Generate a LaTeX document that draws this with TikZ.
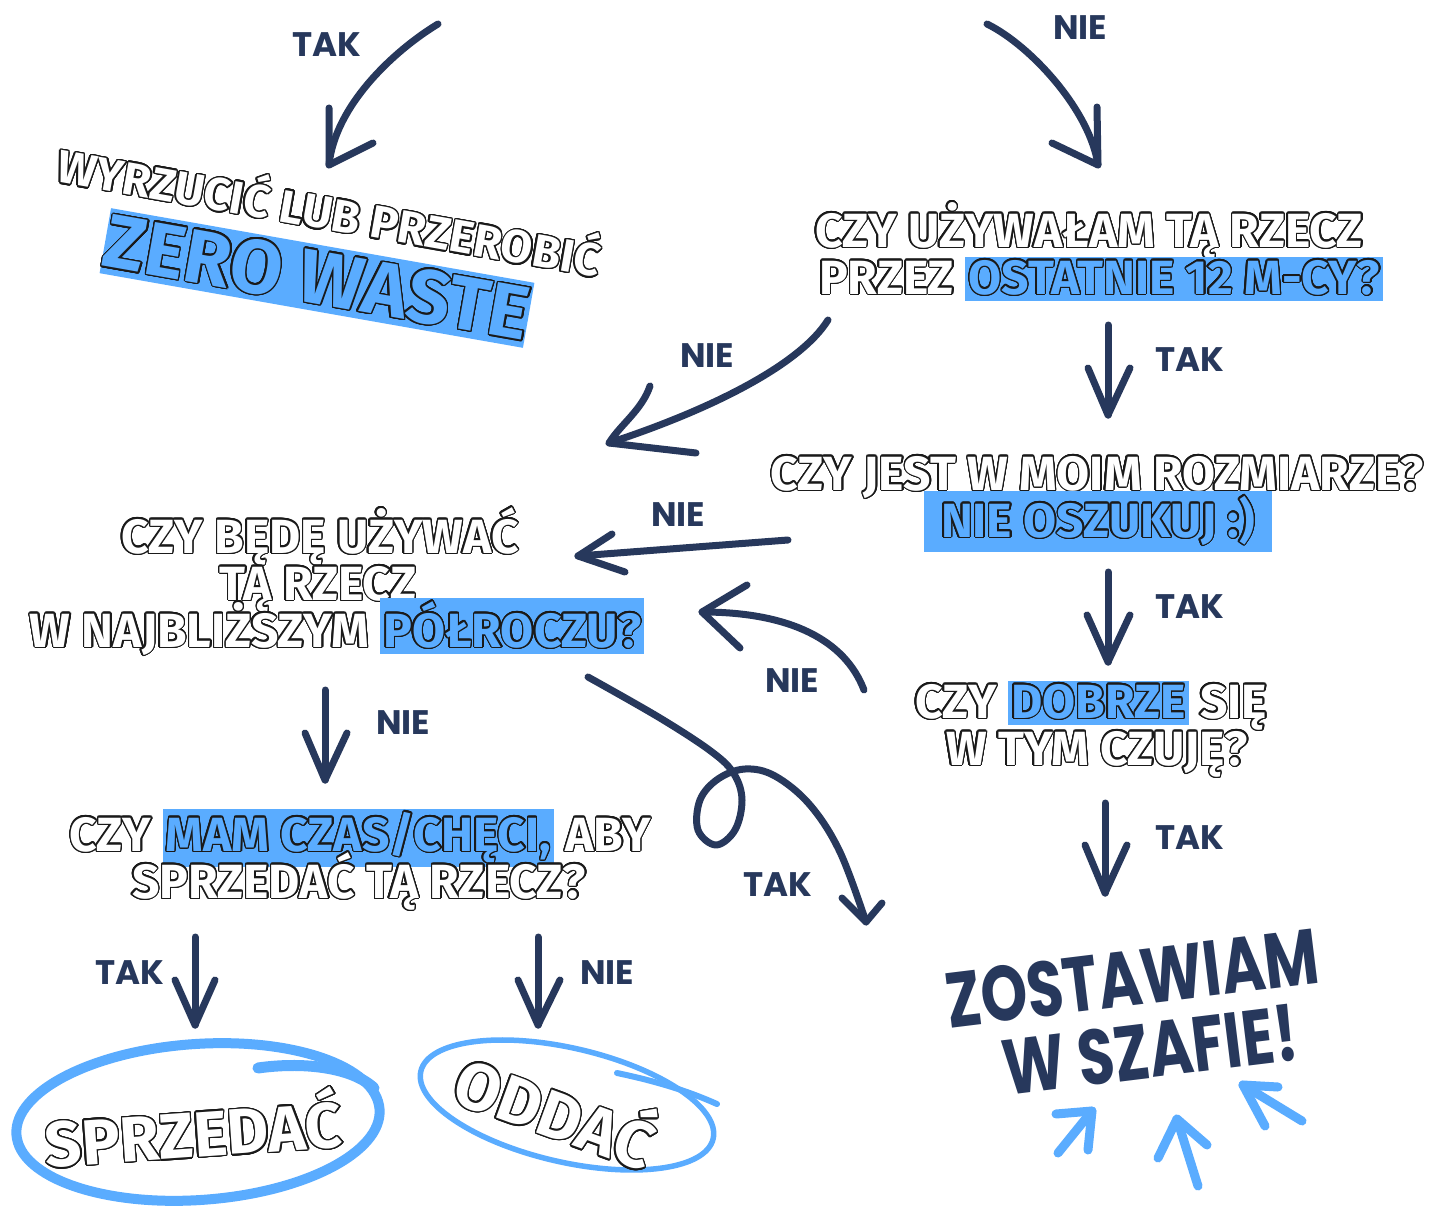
\documentclass[tikz,border=0pt]{standalone}
\usepackage{fontspec}
\usepackage{contour}
\contourlength{1.4pt}
\contournumber{24}
\setmainfont{Fira Sans}
\newfontfamily\labfont{Poppins}
\newfontfamily\bigfont{Poppins}[FakeStretch=0.76]
\definecolor{navy}{HTML}{27385C}
\definecolor{hlblue}{HTML}{5AACFF}
\definecolor{outl}{HTML}{1A1A1A}
\newcommand\wt[1]{{\color{white}\contour{outl}{#1}}}
\newcommand\bt[1]{{\color{hlblue}\contour{outl}{#1}}}
\newcommand\hl[1]{{\setlength\fboxsep{3pt}\colorbox{hlblue}{\rule[-0.09em]{0pt}{0.71em}\bt{#1}}}}
\tikzset{
  q/.style={font=\bfseries\fontsize{48}{52}\selectfont, inner sep=0pt, anchor=base},
  lab/.style={font=\labfont\bfseries\fontsize{34}{36}\selectfont, text=navy, inner sep=0pt},
  big/.style={font=\bigfont\bfseries\fontsize{78}{82}\selectfont, text=navy, inner sep=0pt, rotate=7},
  arr/.style={draw=navy, line width=7pt, line cap=round, line join=round},
  barr/.style={draw=hlblue, line width=9pt, line cap=round, line join=round},
  ring/.style={draw=hlblue, line cap=round, line join=round},
}
\begin{document}
\begin{tikzpicture}[x=1pt,y=-1pt]
\useasboundingbox[fill=white] (0,0) rectangle (1444,1207);

% ---------- labels ----------
\node[lab] (l1) at (327,45) {TAK};
\node[lab] (l2) at (1080,28) {NIE};
\node[lab] (l3) at (707,356) {NIE};
\node[lab] (l4) at (1190,360) {TAK};
\node[lab] (l5) at (678,515) {NIE};
\node[lab] (l6) at (1190,607) {TAK};
\node[lab] (l7) at (792,681) {NIE};
\node[lab] (l8) at (1190,838) {TAK};
\node[lab] (l9) at (403,723) {NIE};
\node[lab] (l10) at (778,885) {TAK};
\node[lab] (l11) at (130,973) {TAK};
\node[lab] (l12) at (607,973) {NIE};

% ---------- zero waste ----------
\node[font=\bfseries\fontsize{46}{48}\selectfont, inner sep=0pt, rotate=-10] (wyrz) at (330,209) {\wt{WYRZUCIĆ LUB PRZEROBIĆ}};
\node[fill=hlblue, minimum width=415pt, minimum height=66pt, inner sep=0pt, rotate=-10,
      font=\bfseries\fontsize{76}{80}\selectfont] (zw) at (317,278) {\bt{ZERO WASTE}};

% ---------- question 1 ----------
\node[q] (q1a) at (1089,247) {\wt{CZY UŻYWAŁAM TĄ RZECZ}};
\node[q] (q1b) at (1101,294) {\wt{PRZEZ} \hl{OSTATNIE 12 M-CY?}};

% ---------- question 2 ----------
\node[q] (q2a) at (1097,490) {\wt{CZY JEST W MOIM ROZMIARZE?}};
\node[q] (q2b) at (1098,537) {\setlength\fboxsep{5pt}\colorbox{hlblue}{\hspace{12pt}\rule[-0.09em]{0pt}{0.71em}\bt{NIE OSZUKUJ :)}\hspace{12pt}}};

% ---------- question 3 ----------
\node[q] (q3a) at (1091,718) {\wt{CZY} \hl{DOBRZE} \wt{SIĘ}};
\node[q] (q3b) at (1097,765) {\wt{W TYM CZUJĘ?}};

% ---------- left question ----------
\node[q] (qla) at (320,553) {\wt{CZY BĘDĘ UŻYWAĆ}};
\node[q] (qlb) at (318,600) {\wt{TĄ RZECZ}};
\node[q] (qlc) at (337,647) {\wt{W NAJBLIŻSZYM} \hl{PÓŁROCZU?}};

% ---------- question 4 ----------
\node[q] (q4a) at (360,851) {\wt{CZY} \hl{MAM CZAS/CHĘCI,} \wt{ABY}};
\node[q] (q4b) at (359,898) {\wt{SPRZEDAĆ TĄ RZECZ?}};

% ---------- final ----------
\node[big] (zo1) at (1132,978) {ZOSTAWIAM};
\node[big] (zo2) at (1150,1050) {W SZAFIE!};

% ---------- sell / give ----------
\coordinate (e1) at (198,1122);
\draw[ring, line width=10pt, rotate around={4:(e1)}] (e1) ellipse [x radius=182, y radius=78];
\coordinate (t1a) at (258,1068);
\coordinate (t1b) at (374,1088);
\draw[ring, line width=11pt] (t1a) .. controls (300,1062) and (350,1066) .. (t1b);
\node[font=\bfseries\fontsize{64}{68}\selectfont, inner sep=0pt, rotate=4] (sprz) at (193,1128) {\wt{SPRZEDAĆ}};

\coordinate (e2) at (567,1105);
\draw[ring, line width=5.5pt, rotate around={-13:(e2)}] (e2) ellipse [x radius=150, y radius=57];
\coordinate (t2a) at (617,1073);
\coordinate (t2b) at (717,1104);
\draw[ring, line width=6pt] (t2a) .. controls (660,1082) and (690,1092) .. (t2b);
\node[font=\bfseries\fontsize{66}{70}\selectfont, inner sep=0pt, rotate=-20] (odd) at (557,1108) {\wt{ODDAĆ}};

% ---------- navy arrows ----------
% A1 TAK top-left
\coordinate (a1s) at (438,24); \coordinate (a1t) at (329,165);
\coordinate (a1b) at (329,108); \coordinate (a1c) at (373,143);
\draw[arr] (a1s) .. controls (395,50) and (335,105) .. (a1t);
\draw[arr] (a1b) -- (a1t) -- (a1c);
% A2 NIE top-right
\coordinate (a2s) at (987,24); \coordinate (a2t) at (1098,165);
\coordinate (a2b) at (1097,107); \coordinate (a2c) at (1052,143);
\draw[arr] (a2s) .. controls (1030,45) and (1090,110) .. (a2t);
\draw[arr] (a2b) -- (a2t) -- (a2c);
% A3 NIE q1 -> left
\coordinate (a3s) at (828,320); \coordinate (a3t) at (609,443);
\coordinate (a3b) at (650,386); \coordinate (a3c) at (696,453);
\draw[arr] (a3s) .. controls (800,365) and (710,410) .. (a3t);
\draw[arr] (a3b) .. controls (642,410) and (620,425) .. (a3t) -- (a3c);
% A4 TAK q1 -> q2
\coordinate (a4s) at (1108,325); \coordinate (a4t) at (1108,415);
\coordinate (a4b) at (1088,368); \coordinate (a4c) at (1130,368);
\draw[arr] (a4s) -- (a4t); \draw[arr] (a4b) -- (a4t) -- (a4c);
% A5 NIE q2 -> left
\coordinate (a5s) at (788,540); \coordinate (a5t) at (578,556);
\coordinate (a5b) at (612,534); \coordinate (a5c) at (625,572);
\draw[arr] (a5s) -- (a5t); \draw[arr] (a5b) -- (a5t) -- (a5c);
% A6 TAK q2 -> q3
\coordinate (a6s) at (1108,572); \coordinate (a6t) at (1108,662);
\coordinate (a6b) at (1087,615); \coordinate (a6c) at (1130,615);
\draw[arr] (a6s) -- (a6t); \draw[arr] (a6b) -- (a6t) -- (a6c);
% A7 NIE q3 -> left
\coordinate (a7s) at (864,690); \coordinate (a7t) at (702,612);
\coordinate (a7b) at (747,585); \coordinate (a7c) at (740,648);
\draw[arr] (a7s) .. controls (845,640) and (790,612) .. (a7t);
\draw[arr] (a7b) -- (a7t) -- (a7c);
% A8 TAK q3 -> final
\coordinate (a8s) at (1105,803); \coordinate (a8t) at (1105,893);
\coordinate (a8b) at (1085,845); \coordinate (a8c) at (1127,845);
\draw[arr] (a8s) -- (a8t); \draw[arr] (a8b) -- (a8t) -- (a8c);
% A9 NIE left -> q4
\coordinate (a9s) at (325,690); \coordinate (a9t) at (325,780);
\coordinate (a9b) at (305,733); \coordinate (a9c) at (347,733);
\draw[arr] (a9s) -- (a9t); \draw[arr] (a9b) -- (a9t) -- (a9c);
% A10 TAK loop left -> final
\coordinate (a10s) at (588,677); \coordinate (a10t) at (866,922);
\coordinate (a10b) at (842,898); \coordinate (a10c) at (882,903);
\draw[arr] plot[smooth, tension=0.6] coordinates {(a10s) (660,718) (712,752) (734,774) (742,800) (735,830) (716,845) (698,830) (700,800) (718,779) (745,769) (775,776) (810,805) (840,852) (a10t)};
\draw[arr] (a10b) -- (a10t) -- (a10c);
% A11 TAK q4 -> sell
\coordinate (a11s) at (195,937); \coordinate (a11t) at (195,1025);
\coordinate (a11b) at (175,980); \coordinate (a11c) at (215,980);
\draw[arr] (a11s) -- (a11t); \draw[arr] (a11b) -- (a11t) -- (a11c);
% A12 NIE q4 -> give
\coordinate (a12s) at (538,937); \coordinate (a12t) at (538,1025);
\coordinate (a12b) at (518,980); \coordinate (a12c) at (560,980);
\draw[arr] (a12s) -- (a12t); \draw[arr] (a12b) -- (a12t) -- (a12c);

% ---------- blue arrows ----------
\coordinate (b1s) at (1058,1153); \coordinate (b1t) at (1092,1111);
\coordinate (b1b) at (1056,1114); \coordinate (b1c) at (1088,1150);
\draw[barr] (b1s) -- (b1t); \draw[barr] (b1b) -- (b1t) -- (b1c);
\coordinate (b2s) at (1198,1186); \coordinate (b2t) at (1177,1119);
\coordinate (b2b) at (1158,1158); \coordinate (b2c) at (1207,1145);
\draw[barr] (b2s) -- (b2t); \draw[barr] (b2b) -- (b2t) -- (b2c);
\coordinate (b3s) at (1302,1121); \coordinate (b3t) at (1243,1085);
\coordinate (b3b) at (1278,1087); \coordinate (b3c) at (1265,1126);
\draw[barr] (b3s) -- (b3t); \draw[barr] (b3b) -- (b3t) -- (b3c);
\end{tikzpicture}
\end{document}
